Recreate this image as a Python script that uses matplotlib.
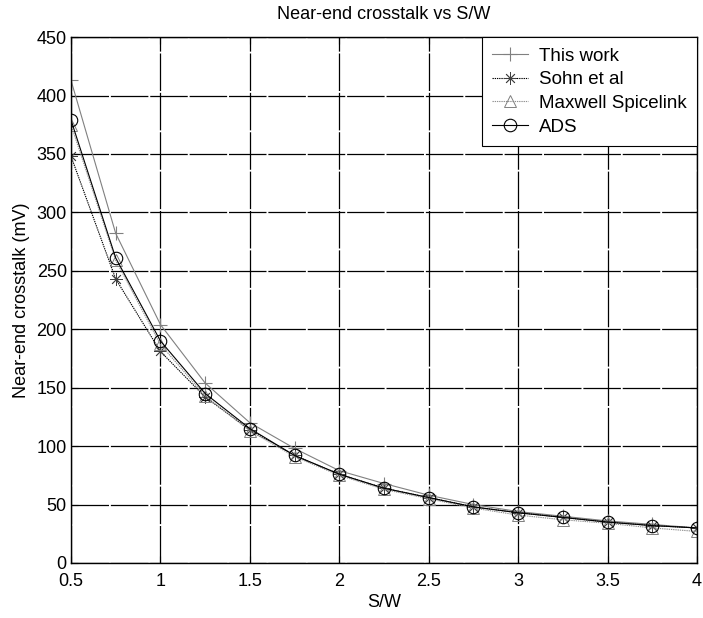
import matplotlib
matplotlib.use('Agg')
import matplotlib.pyplot as plt

plt.rcParams['font.family'] = ['Liberation Sans', 'DejaVu Sans']

sw = [0.5, 0.75, 1.0, 1.25, 1.5, 1.75, 2.0, 2.25, 2.5, 2.75, 3.0, 3.25, 3.5, 3.75, 4.0]
this_work = [413, 282, 204, 154, 120, 98, 79, 68, 58, 50, 44, 40, 36, 33, 30]
sohn = [348, 243, 181, 142, 114, 92, 76, 64, 56, 48, 43, 39, 35, 32, 30]
maxwell = [375, 259, 187, 143, 113, 91, 75, 63, 55, 47, 41, 37, 34, 30, 27]
ads = [379, 261, 190, 145, 115, 92, 76, 64, 56, 48, 43, 39, 35, 32, 30]

fig = plt.figure(figsize=(7.03, 6.18), dpi=100)
ax = fig.add_axes([0.101, 0.089, 0.8905, 0.851])

ax.plot(sw, this_work, color='#808080', lw=0.8, marker='+', ms=10, mew=0.8, label='This work')
ax.plot(sw, sohn, color='black', lw=0.8, ls=(0, (1.2, 0.8)), marker=(8, 2, 0), ms=9, mew=0.6,
        mec='#404040', label='Sohn et al')
ax.plot(sw, maxwell, color='#909090', lw=0.8, ls=(0, (1.2, 0.8)), marker='^', ms=9, mew=0.7,
        mfc='none', mec='#808080', label='Maxwell Spicelink')
ax.plot(sw, ads, color='black', lw=0.8, marker='o', ms=9, mew=0.8, mfc='none', label='ADS')

ax.set_xlim(0.5, 4)
ax.set_ylim(0, 450)
ax.set_xticks([0.5, 1, 1.5, 2, 2.5, 3, 3.5, 4])
ax.set_xticklabels(['0.5', '1', '1.5', '2', '2.5', '3', '3.5', '4'])
ax.set_yticks(range(0, 451, 50))
ax.grid(True, color='black', lw=0.9, ls=(0, (30, 1.5)))
ax.tick_params(direction='in', top=True, right=True, labelsize=13, length=5, pad=3)
ax.tick_params(axis='x', pad=7)
for s in ax.spines.values():
    s.set_linewidth(1.0)

ax.set_title('Near-end crosstalk vs S/W', fontsize=13, pad=13)
ax.set_xlabel('S/W', fontsize=13, labelpad=3)
ax.set_ylabel('Near-end crosstalk (mV)', fontsize=13, labelpad=5)

leg = ax.legend(loc='upper right', fontsize=13.5, fancybox=False, framealpha=1,
                edgecolor='black', borderaxespad=0, handlelength=1.9,
                handletextpad=0.6, borderpad=0.55, labelspacing=0.35)
leg.get_frame().set_linewidth(0.8)

fig.savefig('out.png', dpi=100)
